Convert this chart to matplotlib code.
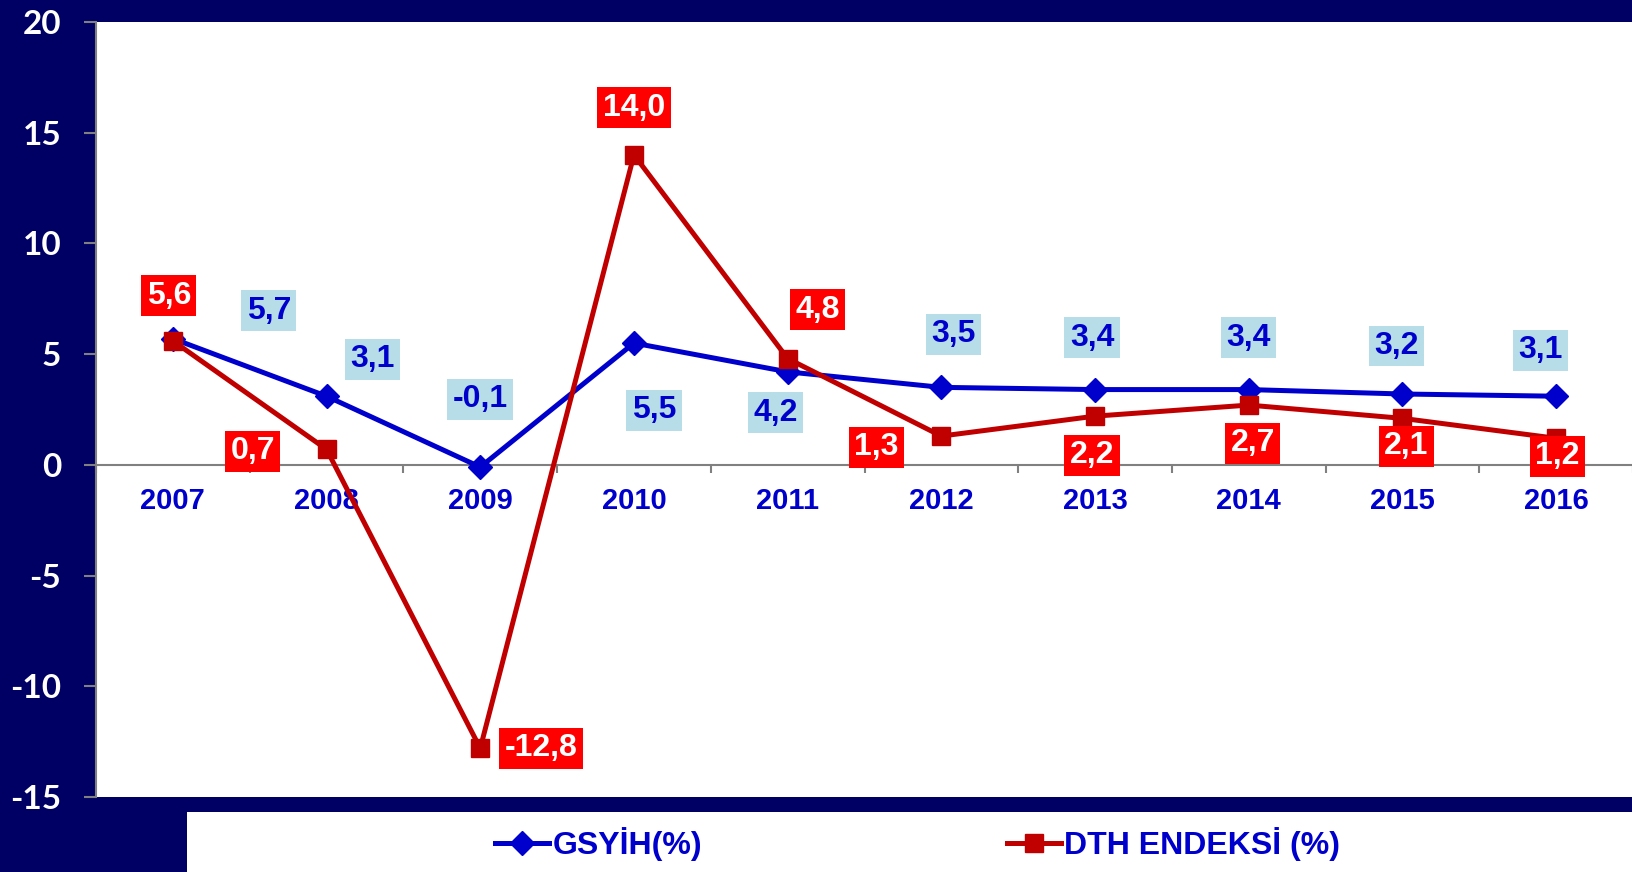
import matplotlib
matplotlib.use("Agg")
import matplotlib.pyplot as plt
from matplotlib.patches import Rectangle

plt.rcParams["axes.unicode_minus"] = False

years = ["2007", "2008", "2009", "2010", "2011", "2012", "2013", "2014", "2015", "2016"]
gsyih = [5.7, 3.1, -0.1, 5.5, 4.2, 3.5, 3.4, 3.4, 3.2, 3.1]
dth = [5.6, 0.7, -12.8, 14.0, 4.8, 1.3, 2.2, 2.7, 2.1, 1.2]

# label offsets in pixels (x right, y up)
gsyih_off = [(96, 28), (46, 37), (0, 68), (20, -67), (-12, -41),
             (12, 53), (-3, 52), (0, 52), (-6, 48), (-16, 46)]
dth_off = [(-4, 45), (-74, -2), (61, 0), (0, 47), (30, 49),
           (-65, -11), (-3, -39), (4, -38), (4, -28), (1, -18)]

NAVY = "#000064"
BLUE = "#0000CC"
RED = "#C00000"

W, H = 1633, 872
fig = plt.figure(figsize=(W / 100, H / 100), dpi=100, facecolor=NAVY)
ax = fig.add_axes([96 / W, 1 - 797 / H, 1 - 96 / W, (797 - 22) / H])
ax.set_facecolor("white")

x = list(range(len(years)))
ax.plot(x, gsyih, color=BLUE, lw=3.6, marker="D", ms=12, zorder=3, label="GSYİH(%)")
ax.plot(x, dth, color=RED, lw=3.6, marker="s", ms=13.5, zorder=4, label="DTH ENDEKSİ (%)")

for i, v in enumerate(gsyih):
    s = ("%.1f" % v).replace(".", ",")
    ax.annotate(s, (i, v), xytext=gsyih_off[i], textcoords="offset pixels",
                ha="center", va="center", fontsize=23, fontweight="bold",
                family="Liberation Sans", color=BLUE, zorder=6,
                bbox=dict(boxstyle="square,pad=0.17", fc="#B7DDE8", ec="none"))
for i, v in enumerate(dth):
    s = ("%.1f" % v).replace(".", ",")
    ax.annotate(s, (i, v), xytext=dth_off[i], textcoords="offset pixels",
                ha="center", va="center", fontsize=23, fontweight="bold",
                family="Liberation Sans", color="white", zorder=6,
                bbox=dict(boxstyle="square,pad=0.17", fc="#FF0000", ec="none"))

ax.set_xlim(-0.5, len(years) - 0.5)
ax.set_ylim(-15, 20)
ax.set_yticks([-15, -10, -5, 0, 5, 10, 15, 20])

for s in ["top", "right"]:
    ax.spines[s].set_visible(False)
ax.spines["left"].set_color("#808080")
ax.spines["left"].set_linewidth(1.5)
ax.spines["bottom"].set_position(("data", 0))
ax.spines["bottom"].set_color("#808080")
ax.spines["bottom"].set_linewidth(1.5)

ax.set_xticks(x)
ax.set_xticklabels(years)
ax.set_xticks([i + 0.5 for i in range(-1, len(years))], minor=True)
ax.tick_params(axis="x", which="major", length=0, pad=16)
ax.tick_params(axis="x", which="minor", length=6, width=1.5, color="#808080", direction="out")
ax.tick_params(axis="y", length=9, width=1.5, color="#808080", pad=16)
for lb in ax.get_xticklabels():
    lb.set_fontsize(21)
    lb.set_fontweight("bold")
    lb.set_family("Liberation Sans")
    lb.set_color(BLUE)
for lb in ax.get_yticklabels():
    lb.set_fontsize(24)
    lb.set_fontweight("bold")
    lb.set_family("Lato")
    lb.set_color("white")

# legend box
fig.patches.append(Rectangle((187 / W, 0), 1 - 187 / W, 60 / H, transform=fig.transFigure,
                             facecolor="white", edgecolor="none", zorder=0))
handles = ax.get_lines()
for h, xa in zip(handles, [495 / W, 1007 / W]):
    leg = fig.legend([h], [h.get_label()], loc="center left", bbox_to_anchor=(xa, 28 / H),
                     frameon=False, borderpad=0, borderaxespad=0, handlelength=1.7,
                     handletextpad=0.1,
                     prop=dict(family="Liberation Sans", weight="bold", size=23))
    for t in leg.get_texts():
        t.set_color(BLUE)

fig.savefig("out.png", dpi=100, facecolor=NAVY)
